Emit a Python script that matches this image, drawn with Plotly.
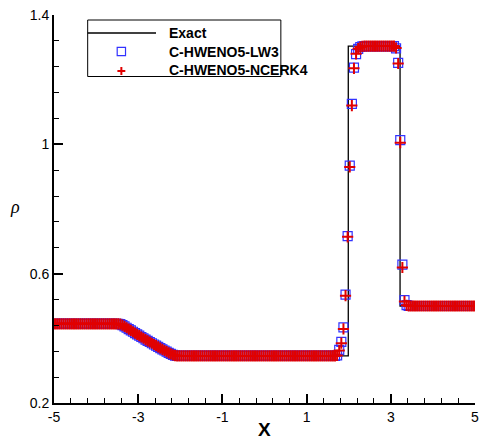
import plotly.graph_objects as go

# ---------------- data ----------------
x_cells = [
    -4.975, -4.925, -4.875, -4.825, -4.775, -4.725, -4.675, -4.625, -4.575, -4.525,
    -4.475, -4.425, -4.375, -4.325, -4.275, -4.225, -4.175, -4.125, -4.075, -4.025,
    -3.975, -3.925, -3.875, -3.825, -3.775, -3.725, -3.675, -3.625, -3.575, -3.525,
    -3.475, -3.425, -3.375, -3.325, -3.275, -3.225, -3.175, -3.125, -3.075, -3.025,
    -2.975, -2.925, -2.875, -2.825, -2.775, -2.725, -2.675, -2.625, -2.575, -2.525,
    -2.475, -2.425, -2.375, -2.325, -2.275, -2.225, -2.175, -2.125, -2.075, -2.025,
    -1.975, -1.925, -1.875, -1.825, -1.775, -1.725, -1.675, -1.625, -1.575, -1.525,
    -1.475, -1.425, -1.375, -1.325, -1.275, -1.225, -1.175, -1.125, -1.075, -1.025,
    -0.975, -0.925, -0.875, -0.825, -0.775, -0.725, -0.675, -0.625, -0.575, -0.525,
    -0.475, -0.425, -0.375, -0.325, -0.275, -0.225, -0.175, -0.125, -0.075, -0.025,
    0.025, 0.075, 0.125, 0.175, 0.225, 0.275, 0.325, 0.375, 0.425, 0.475,
    0.525, 0.575, 0.625, 0.675, 0.725, 0.775, 0.825, 0.875, 0.925, 0.975,
    1.025, 1.075, 1.125, 1.175, 1.225, 1.275, 1.325, 1.375, 1.425, 1.475,
    1.525, 1.575, 1.625, 1.675, 1.725, 1.775, 1.825, 1.875, 1.925, 1.975,
    2.025, 2.075, 2.125, 2.175, 2.225, 2.275, 2.325, 2.375, 2.425, 2.475,
    2.525, 2.575, 2.625, 2.675, 2.725, 2.775, 2.825, 2.875, 2.925, 2.975,
    3.025, 3.075, 3.125, 3.175, 3.225, 3.275, 3.325, 3.375, 3.425, 3.475,
    3.525, 3.575, 3.625, 3.675, 3.725, 3.775, 3.825, 3.875, 3.925, 3.975,
    4.025, 4.075, 4.125, 4.175, 4.225, 4.275, 4.325, 4.375, 4.425, 4.475,
    4.525, 4.575, 4.625, 4.675, 4.725, 4.775, 4.825, 4.875, 4.925, 4.975,
]

rho_lw3 = [
    0.445, 0.445, 0.445, 0.445, 0.445, 0.445, 0.445, 0.445, 0.445, 0.445,
    0.445, 0.445, 0.445, 0.445, 0.445, 0.445, 0.445, 0.445, 0.445, 0.445,
    0.445, 0.445, 0.445, 0.445, 0.445, 0.445, 0.445, 0.445, 0.445, 0.445,
    0.4449, 0.4440, 0.4410, 0.4369, 0.4327, 0.4285, 0.4244, 0.4203, 0.4162, 0.4122,
    0.4082, 0.4042, 0.4003, 0.3963, 0.3924, 0.3886, 0.3848, 0.3810, 0.3772, 0.3735,
    0.3698, 0.3661, 0.3624, 0.3588, 0.3553, 0.3519, 0.3488, 0.3467, 0.3459, 0.3457,
    0.3457, 0.3457, 0.3457, 0.3457, 0.3457, 0.3457, 0.3457, 0.3457, 0.3457, 0.3457,
    0.3457, 0.3457, 0.3457, 0.3457, 0.3457, 0.3457, 0.3457, 0.3457, 0.3457, 0.3457,
    0.3457, 0.3457, 0.3457, 0.3457, 0.3457, 0.3457, 0.3457, 0.3457, 0.3457, 0.3457,
    0.3457, 0.3457, 0.3457, 0.3457, 0.3457, 0.3457, 0.3457, 0.3457, 0.3457, 0.3457,
    0.3457, 0.3457, 0.3457, 0.3457, 0.3457, 0.3457, 0.3457, 0.3457, 0.3457, 0.3457,
    0.3457, 0.3457, 0.3457, 0.3457, 0.3457, 0.3457, 0.3457, 0.3457, 0.3457, 0.3457,
    0.3457, 0.3457, 0.3457, 0.3457, 0.3457, 0.3457, 0.3457, 0.3457, 0.3457, 0.3457,
    0.3457, 0.3457, 0.3457, 0.3458, 0.3475, 0.364, 0.389, 0.434, 0.535, 0.716,
    0.934, 1.125, 1.237, 1.279, 1.295, 1.301, 1.303, 1.304, 1.304, 1.304,
    1.304, 1.304, 1.304, 1.304, 1.304, 1.304, 1.304, 1.304, 1.304, 1.304,
    1.304, 1.304, 1.297, 1.252, 1.013, 0.628, 0.518, 0.503, 0.5005, 0.5,
    0.5, 0.5, 0.5, 0.5, 0.5, 0.5, 0.5, 0.5, 0.5, 0.5,
    0.5, 0.5, 0.5, 0.5, 0.5, 0.5, 0.5, 0.5, 0.5, 0.5,
    0.5, 0.5, 0.5, 0.5, 0.5, 0.5, 0.5, 0.5, 0.5, 0.5,
]

rho_ncerk4 = [
    0.445, 0.445, 0.445, 0.445, 0.445, 0.445, 0.445, 0.445, 0.445, 0.445,
    0.445, 0.445, 0.445, 0.445, 0.445, 0.445, 0.445, 0.445, 0.445, 0.445,
    0.445, 0.445, 0.445, 0.445, 0.445, 0.445, 0.445, 0.445, 0.445, 0.445,
    0.4449, 0.4441, 0.4411, 0.4369, 0.4327, 0.4285, 0.4244, 0.4203, 0.4162, 0.4122,
    0.4082, 0.4042, 0.4003, 0.3963, 0.3924, 0.3886, 0.3848, 0.3810, 0.3772, 0.3735,
    0.3698, 0.3661, 0.3624, 0.3588, 0.3553, 0.3519, 0.3487, 0.3466, 0.3459, 0.3457,
    0.3457, 0.3457, 0.3457, 0.3457, 0.3457, 0.3457, 0.3457, 0.3457, 0.3457, 0.3457,
    0.3457, 0.3457, 0.3457, 0.3457, 0.3457, 0.3457, 0.3457, 0.3457, 0.3457, 0.3457,
    0.3457, 0.3457, 0.3457, 0.3457, 0.3457, 0.3457, 0.3457, 0.3457, 0.3457, 0.3457,
    0.3457, 0.3457, 0.3457, 0.3457, 0.3457, 0.3457, 0.3457, 0.3457, 0.3457, 0.3457,
    0.3457, 0.3457, 0.3457, 0.3457, 0.3457, 0.3457, 0.3457, 0.3457, 0.3457, 0.3457,
    0.3457, 0.3457, 0.3457, 0.3457, 0.3457, 0.3457, 0.3457, 0.3457, 0.3457, 0.3457,
    0.3457, 0.3457, 0.3457, 0.3457, 0.3457, 0.3457, 0.3457, 0.3457, 0.3457, 0.3457,
    0.3457, 0.3457, 0.3457, 0.3458, 0.3470, 0.362, 0.385, 0.429, 0.532, 0.714,
    0.930, 1.120, 1.235, 1.280, 1.296, 1.301, 1.303, 1.304, 1.304, 1.304,
    1.304, 1.304, 1.304, 1.304, 1.304, 1.304, 1.304, 1.304, 1.304, 1.304,
    1.304, 1.304, 1.298, 1.250, 1.005, 0.619, 0.514, 0.502, 0.5003, 0.5,
    0.5, 0.5, 0.5, 0.5, 0.5, 0.5, 0.5, 0.5, 0.5, 0.5,
    0.5, 0.5, 0.5, 0.5, 0.5, 0.5, 0.5, 0.5, 0.5, 0.5,
    0.5, 0.5, 0.5, 0.5, 0.5, 0.5, 0.5, 0.5, 0.5, 0.5,
]

exact_x = [-5, -3.42, -3.2, -3.0, -2.8, -2.6, -2.4, -2.2, -2.14, 1.99, 1.99, 3.22, 3.22, 5]
exact_rho = [0.445, 0.445, 0.4265, 0.4102, 0.3944, 0.3791, 0.3643, 0.3499, 0.3457,
             0.3457, 1.304, 1.304, 0.5, 0.5]

x_tickvals = [-5, -3, -1, 1, 3, 5]
x_ticktext = ["-5", "-3", "-1", "1", "3", "5"]
y_tickvals = [0.2, 0.6, 1.0, 1.4]
y_ticktext = ["0.2", "0.6", "1", "1.4"]

series_names = ["Exact", "C-HWENO5-LW3", "C-HWENO5-NCERK4"]

# ---------------- figure ----------------
W, H = 479, 439
ML, MR, MT, MB = 54, 0, 15, 36
PW, PH = W - ML - MR, H - MT - MB

BLUE = "rgb(50,50,255)"
RED = "rgb(225,0,0)"


def px(xp):
    return (xp - ML) / PW


def py(yp):
    return (MT + PH - yp) / PH


fig = go.Figure()
fig.add_trace(go.Scatter(x=exact_x, y=exact_rho, mode="lines",
                         line=dict(color="black", width=1.3),
                         name=series_names[0], showlegend=False))
fig.add_trace(go.Scatter(x=x_cells, y=rho_lw3, mode="markers",
                         marker=dict(symbol="square-open", size=9,
                                     color=BLUE, line=dict(color=BLUE, width=1.2)),
                         name=series_names[1], showlegend=False))
fig.add_trace(go.Scatter(x=x_cells, y=rho_ncerk4, mode="markers",
                         marker=dict(symbol="cross-thin", size=8,
                                     color=RED, line=dict(color=RED, width=2)),
                         name=series_names[2], showlegend=False))

font_family = "Liberation Sans, Arial, sans-serif"

fig.update_xaxes(range=[-5, 5], tickmode="array", tickvals=x_tickvals, ticktext=x_ticktext,
                 ticks="inside", ticklen=9, tickwidth=2, tickcolor="black",
                 ticklabeloverflow="allow",
                 showline=True, linewidth=2, linecolor="black", mirror=False,
                 showgrid=False, zeroline=False,
                 tickfont=dict(family=font_family, size=14, color="black"),
                 minor=dict(tickmode="linear", tick0=-5, dtick=0.4, ticks="inside",
                            ticklen=5, tickwidth=1, tickcolor="black", showgrid=False))
fig.update_yaxes(range=[0.2, 1.4], tickmode="array", tickvals=y_tickvals, ticktext=y_ticktext,
                 ticks="inside", ticklen=9, tickwidth=2, tickcolor="black",
                 ticklabeloverflow="allow",
                 showline=True, linewidth=2, linecolor="black", mirror=False,
                 showgrid=False, zeroline=False,
                 tickfont=dict(family=font_family, size=14, color="black"),
                 minor=dict(tickmode="linear", tick0=0.2, dtick=0.08, ticks="inside",
                            ticklen=5, tickwidth=1, tickcolor="black", showgrid=False))

shapes = []
annotations = []
# legend box
shapes.append(dict(type="rect", xref="paper", yref="paper",
                   x0=px(88), x1=px(283), y0=py(76.5), y1=py(20),
                   line=dict(color="black", width=1), fillcolor="white", layer="above"))
# line sample
shapes.append(dict(type="line", xref="paper", yref="paper",
                   x0=px(88), x1=px(157), y0=py(33), y1=py(33),
                   line=dict(color="black", width=1.3), layer="above"))
# square sample
shapes.append(dict(type="rect", xref="paper", yref="paper",
                   x0=px(117.8), x1=px(126.2), y0=py(55.7), y1=py(47.3),
                   line=dict(color=BLUE, width=1.2), layer="above"))
# plus sample
shapes.append(dict(type="line", xref="paper", yref="paper",
                   x0=px(118), x1=px(126), y0=py(71), y1=py(71),
                   line=dict(color=RED, width=2), layer="above"))
shapes.append(dict(type="line", xref="paper", yref="paper",
                   x0=px(122), x1=px(122), y0=py(67), y1=py(75),
                   line=dict(color=RED, width=2), layer="above"))

for name, yc in zip(series_names, [33, 51.5, 70]):
    annotations.append(dict(text=name, xref="paper", yref="paper", x=px(168), y=py(yc),
                            xanchor="left", yanchor="middle", showarrow=False,
                            font=dict(family=font_family, size=14, color="black", weight="bold")))

annotations.append(dict(text="X", xref="paper", yref="paper", x=0.5, y=py(429),
                        xanchor="center", yanchor="middle", showarrow=False,
                        font=dict(family=font_family, size=19, color="black", weight="bold")))
annotations.append(dict(text="<i>ρ</i>", xref="paper", yref="paper", x=px(15), y=py(207),
                        xanchor="center", yanchor="middle", showarrow=False,
                        font=dict(family="Liberation Serif, Times New Roman, serif",
                                  size=18, color="black")))

fig.update_layout(width=W, height=H, margin=dict(l=ML, r=MR, t=MT, b=MB),
                  plot_bgcolor="white", paper_bgcolor="white",
                  shapes=shapes, annotations=annotations, showlegend=False)

fig.write_html("out.html")
